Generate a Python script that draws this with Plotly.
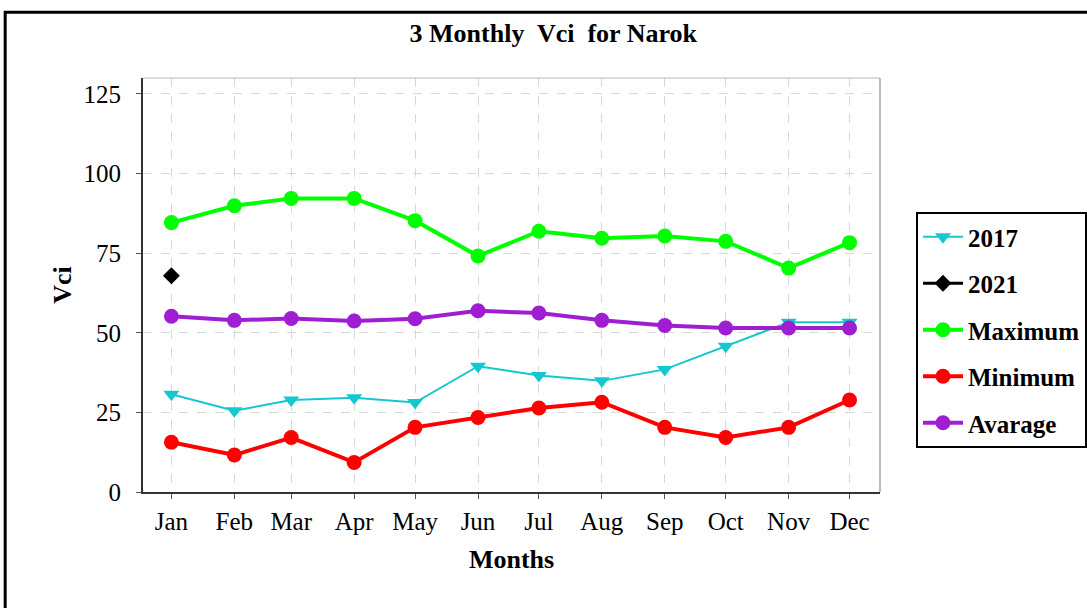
import plotly.graph_objects as go

months = ["2017-01-01", "2017-02-01", "2017-03-01", "2017-04-01", "2017-05-01", "2017-06-01",
          "2017-07-01", "2017-08-01", "2017-09-01", "2017-10-01", "2017-11-01", "2017-12-01"]

vci_2017 = [30.7, 25.5, 28.9, 29.6, 28.1, 39.5, 36.6, 34.9, 38.5, 45.8, 53.3, 53.3]
vci_2021 = [67.9]
vci_max = [84.6, 89.9, 92.2, 92.2, 85.2, 74.1, 81.9, 79.7, 80.4, 78.7, 70.3, 78.3]
vci_min = [15.6, 11.6, 17.1, 9.3, 20.3, 23.4, 26.4, 28.2, 20.3, 17.1, 20.3, 28.9]
vci_avg = [55.2, 53.9, 54.5, 53.7, 54.4, 56.9, 56.2, 53.9, 52.3, 51.5, 51.5, 51.5]

FONT = "Liberation Serif"

fig = go.Figure()
fig.add_trace(go.Scatter(x=months, y=vci_2017, name="<b>2017</b>", mode="lines+markers",
                         legendgroup="a",
                         line=dict(color="#14C8D0", width=2),
                         marker=dict(symbol="triangle-down", size=14, color="#14C8D0")))
fig.add_trace(go.Scatter(x=months[:1], y=vci_2021, name="<b>2021</b>", mode="lines+markers",
                         legendgroup="b",
                         line=dict(color="black", width=3),
                         marker=dict(symbol="diamond", size=13, color="black")))
fig.add_trace(go.Scatter(x=months, y=vci_max, name="<b>Maximum</b>", mode="lines+markers",
                         legendgroup="c",
                         line=dict(color="#00FF00", width=4),
                         marker=dict(symbol="circle", size=15, color="#00FF00")))
fig.add_trace(go.Scatter(x=months, y=vci_min, name="<b>Minimum</b>", mode="lines+markers",
                         legendgroup="d",
                         line=dict(color="#FF0000", width=4),
                         marker=dict(symbol="circle", size=15, color="#FF0000")))
fig.add_trace(go.Scatter(x=months, y=vci_avg, name="<b>Avarage</b>", mode="lines+markers",
                         legendgroup="e",
                         line=dict(color="#A01ED2", width=4),
                         marker=dict(symbol="circle", size=15, color="#A01ED2")))

fig.update_layout(
    width=1087, height=608,
    margin=dict(l=143, r=207, t=78, b=116, autoexpand=False),
    paper_bgcolor="white", plot_bgcolor="white",
    title=dict(text="<b>3 Monthly  Vci  for Narok</b>", x=0.509, xanchor="center",
               y=1 - 33 / 608, yanchor="middle", font=dict(family=FONT, size=26, color="black")),
    font=dict(family=FONT, color="black"),
    showlegend=True,
    legend=dict(xref="container", yref="container", x=916 / 1087, y=1 - 212 / 608,
                xanchor="left", yanchor="top",
                bordercolor="black", borderwidth=2, bgcolor="white",
                font=dict(family=FONT, size=25, color="black"),
                itemwidth=40, tracegroupgap=11),
    shapes=[dict(type="rect", xref="paper", yref="paper",
                 x0=-0.187, x1=1.3, y0=-0.35, y1=1.159,
                 line=dict(color="black", width=3), layer="below")],
)

fig.update_xaxes(
    type="date", range=["2016-12-18", "2017-12-16"],
    dtick="M1", tick0="2017-01-01", tickformat="%b",
    showgrid=True, gridcolor="#d8d8d8", griddash="dash", gridwidth=1,
    showline=True, linecolor="#333333", linewidth=2, mirror=False,
    ticks="outside", ticklen=5, tickcolor="#555555", ticklabelstandoff=1,
    tickfont=dict(family=FONT, size=25, color="black"),
    title=dict(text="<b>Months</b>", font=dict(family=FONT, size=26, color="black"), standoff=16),
    zeroline=False,
)
fig.update_yaxes(
    range=[0, 130], tickvals=[0, 25, 50, 75, 100, 125],
    showgrid=True, gridcolor="#d8d8d8", griddash="dash", gridwidth=1,
    showline=True, linecolor="#333333", linewidth=2,
    ticks="outside", ticklen=5, tickcolor="#555555", ticklabelstandoff=10,
    tickfont=dict(family=FONT, size=25, color="black"),
    title=dict(text="<b>Vci</b>", font=dict(family=FONT, size=26, color="black"), standoff=4),
    zeroline=False,
)
fig.add_shape(type="line", xref="paper", yref="paper", x0=0, x1=1, y0=1, y1=1,
              line=dict(color="#bbbbbb", width=1))
fig.add_shape(type="line", xref="paper", yref="paper", x0=1, x1=1, y0=0, y1=1,
              line=dict(color="#bbbbbb", width=2))

fig.write_html("out.html", config={"displayModeBar": False},
               post_script="document.body.style.margin='0px';")
